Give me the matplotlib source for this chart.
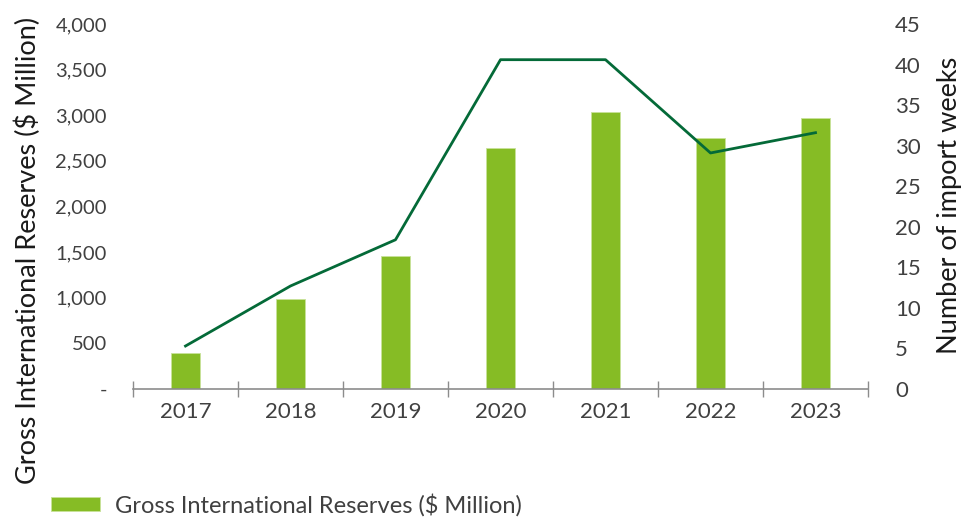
import matplotlib
matplotlib.use("Agg")
import matplotlib.pyplot as plt
from matplotlib.ticker import FuncFormatter
import numpy as np

years = ["2017", "2018", "2019", "2020", "2021", "2022", "2023"]
reserves = [395, 985, 1460, 2645, 3040, 2750, 2975]
import_weeks = [5.3, 12.7, 18.4, 40.6, 40.6, 29.1, 31.6]

BAR = "#86BC25"
LINE = "#046A38"
TXT = "#404040"

plt.rcParams['font.family'] = ['Lato', 'DejaVu Sans']
PX = 72 / 100  # points per pixel

fig = plt.figure(figsize=(9.73, 5.21), dpi=100)
ax = fig.add_axes([133/973, 1-389/521, (868-133)/973, (389-24)/521])
x = np.arange(len(years))
ax.bar(x, reserves, width=0.285, color=BAR, edgecolor="#c8e29a", linewidth=0.6,
       label="Gross International Reserves ($ Million)", zorder=2)
ax.set_xlim(-0.5, len(years)-0.5)
ax.set_ylim(0, 4000)
ax.set_yticks(np.arange(0, 4001, 500))
ax.yaxis.set_major_formatter(FuncFormatter(lambda v, p: "-" if v == 0 else f"{int(v):,}"))
ax.tick_params(axis='y', length=0, labelsize=14.5, labelcolor=TXT, pad=26*PX)
ax.set_xticks(x)
ax.set_xticklabels(years)
ax.set_xticks(np.arange(-0.5, len(years), 1), minor=True)
ax.tick_params(axis='x', which='major', length=0, labelsize=16, labelcolor=TXT, pad=13*PX)
ax.tick_params(axis='x', which='minor', direction='inout', length=11, width=1, color="#8c8c8c")
for s in ['top', 'right', 'left']:
    ax.spines[s].set_visible(False)
ax.spines['bottom'].set_color("#8c8c8c")
ax.spines['bottom'].set_linewidth(1.2)

ax2 = ax.twinx()
ax2.plot(x, import_weeks, color=LINE, linewidth=2.0, zorder=3)
ax2.set_ylim(0, 45)
ax2.set_yticks(np.arange(0, 46, 5))
ax2.tick_params(axis='y', length=0, labelsize=16, labelcolor=TXT, pad=27*PX)
for s in ['top', 'right', 'left', 'bottom']:
    ax2.spines[s].set_visible(False)

fig.text(949/973, 1-205/521, "Number of import weeks", rotation=90,
         ha='center', va='center', fontsize=19.5, color="#1a1a1a")
fig.text(28/973, 1-250/521, "Gross International Reserves ($ Million)", rotation=90,
         ha='center', va='center', fontsize=19.5, color="#1a1a1a")

h, l = ax.get_legend_handles_labels()
fig.legend(h, l, loc='center left', bbox_to_anchor=(51/973, 1-505/521), frameon=False,
           fontsize=17, handlelength=2.08, handleheight=0.53, handletextpad=0.63,
           borderpad=0, borderaxespad=0, labelcolor=TXT)

fig.savefig("out.png", dpi=100)
